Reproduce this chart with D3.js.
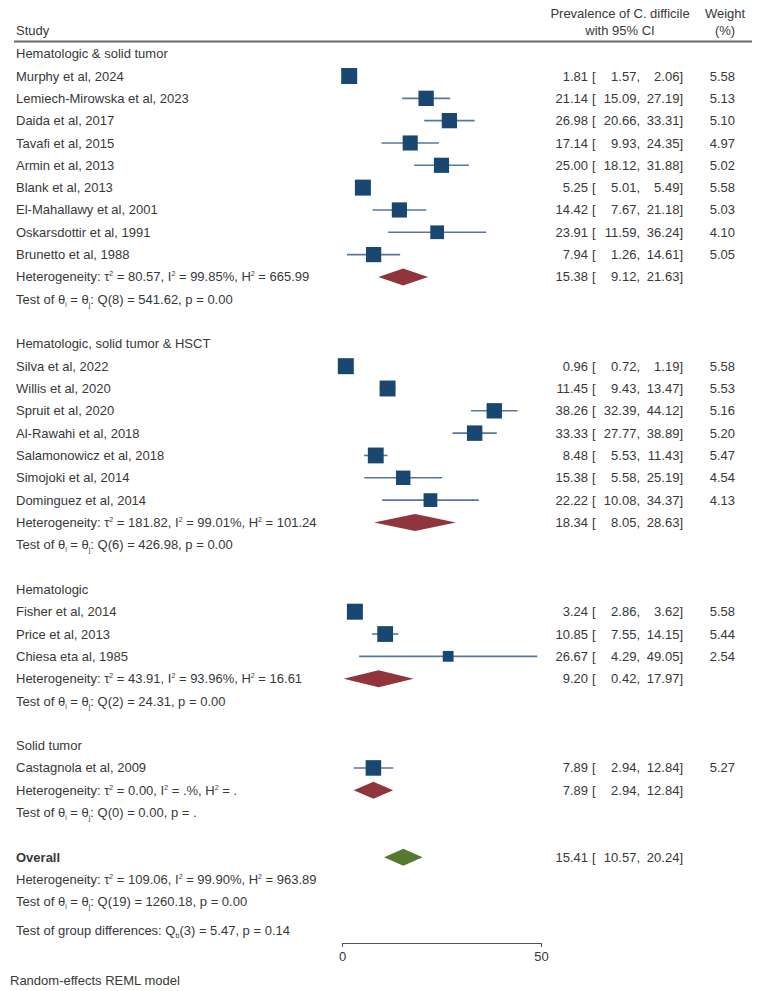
<!DOCTYPE html>
<html>
  <head>
    <meta charset="utf-8">
    <style>
      body { margin: 0; background: #fff; }
      text { font-family: "Liberation Sans", Arial, sans-serif; font-size: 13px; fill: #383838; }
      .bold { font-weight: bold; }
    </style>
  </head>
  <body>
    <div id="chart"></div>
    <script src="https://d3js.org/d3.v7.min.js"></script>
    <script>
      // subgroups
      var groupNames = ["Hematologic & solid tumor", "Hematologic, solid tumor & HSCT", "Hematologic", "Solid tumor"];
      var groupEst = [15.38, 18.34, 9.20, 7.89];
      var groupLo = [9.12, 8.05, 0.42, 2.94];
      var groupHi = [21.63, 28.63, 17.97, 12.84];
      var groupTau2 = ["80.57", "181.82", "43.91", "0.00"];
      var groupI2 = ["99.85%", "99.01%", "93.96%", ".%"];
      var groupH2 = ["665.99", "101.24", "16.61", "."];
      var groupDf = [8, 6, 2, 0];
      var groupQ = ["541.62", "426.98", "24.31", "0.00"];
      var groupP = ["0.00", "0.00", "0.00", "."];

      // studies
      var studyNames = ["Murphy et al, 2024", "Lemiech-Mirowska et al, 2023", "Daida et al, 2017", "Tavafi et al, 2015",
        "Armin et al, 2013", "Blank et al, 2013", "El-Mahallawy et al, 2001", "Oskarsdottir et al, 1991", "Brunetto et al, 1988",
        "Silva et al, 2022", "Willis et al, 2020", "Spruit et al, 2020", "Al-Rawahi et al, 2018", "Salamonowicz et al, 2018",
        "Simojoki et al, 2014", "Dominguez et al, 2014",
        "Fisher et al, 2014", "Price et al, 2013", "Chiesa eta al, 1985",
        "Castagnola et al, 2009"];
      var studyGroup = [0,0,0,0,0,0,0,0,0, 1,1,1,1,1,1,1, 2,2,2, 3];
      var studyEst = [1.81, 21.14, 26.98, 17.14, 25.00, 5.25, 14.42, 23.91, 7.94,
        0.96, 11.45, 38.26, 33.33, 8.48, 15.38, 22.22,
        3.24, 10.85, 26.67,
        7.89];
      var studyLo = [1.57, 15.09, 20.66, 9.93, 18.12, 5.01, 7.67, 11.59, 1.26,
        0.72, 9.43, 32.39, 27.77, 5.53, 5.58, 10.08,
        2.86, 7.55, 4.29,
        2.94];
      var studyHi = [2.06, 27.19, 33.31, 24.35, 31.88, 5.49, 21.18, 36.24, 14.61,
        1.19, 13.47, 44.12, 38.89, 11.43, 25.19, 34.37,
        3.62, 14.15, 49.05,
        12.84];
      var studyWeight = [5.58, 5.13, 5.10, 4.97, 5.02, 5.58, 5.03, 4.10, 5.05,
        5.58, 5.53, 5.16, 5.20, 5.47, 4.54, 4.13,
        5.58, 5.44, 2.54,
        5.27];

      // overall
      var overallEst = 15.41, overallLo = 10.57, overallHi = 20.24;
      var overallTau2 = "109.06", overallI2 = "99.90%", overallH2 = "963.89";
      var overallDf = 19, overallQ = "1260.18", overallP = "0.00";
      var diffDf = 3, diffQ = "5.47", diffP = "0.14";

      var xTicks = [0, 50];

      var width = 760, height = 991;
      var svg = d3.select("#chart").append("svg")
        .attr("width", width).attr("height", height);

      var x = d3.scaleLinear().domain([0, 50]).range([342, 541]);
      var rowY = function(i) { return 53.7 + i * 22.32; };

      var colEst = 588, colBr = 592, colLo = 640, colHi = 683, colW = 735;

      // header
      svg.append("text").attr("x", 16).attr("y", 35).text("Study");
      svg.append("text").attr("x", 620).attr("y", 18).attr("text-anchor", "middle").text("Prevalence of C. difficile");
      svg.append("text").attr("x", 620).attr("y", 35).attr("text-anchor", "middle").text("with 95% CI");
      svg.append("text").attr("x", 725).attr("y", 18).attr("text-anchor", "middle").text("Weight");
      svg.append("text").attr("x", 725).attr("y", 35).attr("text-anchor", "middle").text("(%)");
      svg.append("line").attr("x1", 14).attr("x2", 752).attr("y1", 41.5).attr("y2", 41.5)
        .attr("stroke", "#6a6a6a").attr("stroke-width", 2);

      function label(y, str, cls) {
        return svg.append("text").attr("x", 16).attr("y", y).attr("dy", "0.35em")
          .attr("class", cls || null).text(str);
      }
      function ciText(y, est, lo, hi, w) {
        svg.append("text").attr("x", colEst).attr("y", y).attr("dy", "0.35em").attr("text-anchor", "end").text(est.toFixed(2));
        svg.append("text").attr("x", colBr).attr("y", y).attr("dy", "0.35em").text("[");
        svg.append("text").attr("x", colLo).attr("y", y).attr("dy", "0.35em").attr("text-anchor", "end").text(lo.toFixed(2) + ",");
        svg.append("text").attr("x", colHi).attr("y", y).attr("dy", "0.35em").attr("text-anchor", "end").text(hi.toFixed(2) + "]");
        if (w != null) svg.append("text").attr("x", colW).attr("y", y).attr("dy", "0.35em").attr("text-anchor", "end").text(w.toFixed(2));
      }
      function sup(t, s, rest) {
        t.append("tspan").attr("dy", -5).style("font-size", "7px").text(s);
        t.append("tspan").attr("dy", 5).text(rest);
      }
      function sub(t, s, rest) {
        t.append("tspan").attr("dy", 3).style("font-size", "7px").text(s);
        t.append("tspan").attr("dy", -3).text(rest);
      }
      function hetText(y, tau2, i2, h2) {
        var t = label(y, "Heterogeneity: \u03C4");
        sup(t, "2", " = " + tau2 + ", I");
        sup(t, "2", " = " + i2 + ", H");
        sup(t, "2", " = " + h2);
      }
      function testText(y, df, q, p) {
        var t = label(y, "Test of \u03B8");
        sub(t, "i", " = \u03B8");
        sub(t, "j", ": Q(" + df + ") = " + q + ", p = " + p);
      }
      function diamond(y, lo, est, hi, color) {
        var h = 8.5;
        svg.append("path")
          .attr("d", "M" + x(lo) + "," + y + "L" + x(est) + "," + (y - h) + "L" + x(hi) + "," + y + "L" + x(est) + "," + (y + h) + "Z")
          .attr("fill", color);
      }

      var row = 0;
      groupNames.forEach(function(g, gi) {
        label(rowY(row), g);
        row++;
        studyNames.forEach(function(name, si) {
          if (studyGroup[si] !== gi) return;
          var y = rowY(row);
          label(y, name);
          svg.append("line").attr("x1", x(studyLo[si])).attr("x2", x(studyHi[si]))
            .attr("y1", y).attr("y2", y).attr("stroke", "#5479a0").attr("stroke-width", 1.6);
          var s = 6.77 * Math.sqrt(studyWeight[si]);
          svg.append("rect").attr("x", x(studyEst[si]) - s / 2).attr("y", y - s / 2)
            .attr("width", s).attr("height", s).attr("fill", "#1a476f");
          ciText(y, studyEst[si], studyLo[si], studyHi[si], studyWeight[si]);
          row++;
        });
        var yh = rowY(row);
        hetText(yh, groupTau2[gi], groupI2[gi], groupH2[gi]);
        diamond(yh, groupLo[gi], groupEst[gi], groupHi[gi], "#90353b");
        ciText(yh, groupEst[gi], groupLo[gi], groupHi[gi], null);
        row++;
        testText(rowY(row), groupDf[gi], groupQ[gi], groupP[gi]);
        row += 2;
      });

      // overall
      var yo = rowY(row);
      label(yo, "Overall", "bold");
      diamond(yo, overallLo, overallEst, overallHi, "#55792f");
      ciText(yo, overallEst, overallLo, overallHi, null);
      row++;
      hetText(rowY(row), overallTau2, overallI2, overallH2);
      row++;
      testText(rowY(row), overallDf, overallQ, overallP);
      row++;
      var td = label(rowY(row) + 6, "Test of group differences: Q");
      sub(td, "b", "(" + diffDf + ") = " + diffQ + ", p = " + diffP);

      // axis
      var axis = svg.append("g").attr("transform", "translate(0,943)")
        .call(d3.axisBottom(x).tickValues(xTicks).tickSize(4).tickPadding(5));
      axis.selectAll("path, line").attr("stroke", "#555");
      axis.selectAll("text").style("font-size", "13px").style("fill", "#383838")
        .style("font-family", "'Liberation Sans', Arial, sans-serif");

      svg.append("text").attr("x", 10).attr("y", 980).attr("dy", "0.35em").text("Random-effects REML model");
    </script>
  </body>
</html>
